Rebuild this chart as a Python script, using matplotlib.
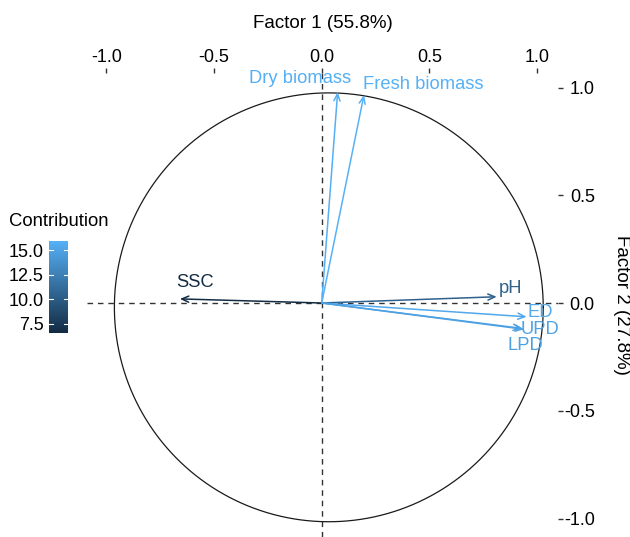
import numpy as np
import matplotlib
matplotlib.use("Agg")
import matplotlib.pyplot as plt
from matplotlib.colors import LinearSegmentedColormap, Normalize

plt.rcParams['font.family'] = ['Liberation Sans', 'DejaVu Sans']
plt.rcParams['lines.scale_dashes'] = False

# Variable loadings on the two factors and their contributions
variables = ["SSC", "Dry biomass", "Fresh biomass", "pH", "ED", "UPD", "LPD"]
factor1 = [-0.658, 0.074, 0.196, 0.812, 0.951, 0.939, 0.930]
factor2 = [0.019, 0.979, 0.965, 0.029, -0.064, -0.122, -0.118]
contribution = [6.55, 15.8, 15.95, 10.3, 15.3, 15.0, 14.8]

# Label anchor points (repelled away from the arrow tips)
label_x = [-0.588, -0.099, 0.471, 0.874, 1.013, 1.013, 0.943]
label_y = [0.093, 1.044, 1.016, 0.065, -0.046, -0.121, -0.195]

x_ticks = [-1.0, -0.5, 0.0, 0.5, 1.0]
y_ticks = [-1.0, -0.5, 0.0, 0.5, 1.0]
cbar_ticks = [7.5, 10.0, 12.5, 15.0]

W, H = 630, 537
fig = plt.figure(figsize=(W / 100, H / 100), dpi=100)

# Main panel
left_px, right_px, top_px, bottom_px = 87, 558, 73, 537
ax = fig.add_axes([left_px / W, 1 - bottom_px / H,
                   (right_px - left_px) / W, (bottom_px - top_px) / H])
scale = 215.5  # pixels per unit
ox, oy = 321.7, 303.0
ax.set_xlim((left_px - ox) / scale, (right_px - ox) / scale)
ax.set_ylim((oy - bottom_px) / scale, (oy - top_px) / scale)
for s in ax.spines.values():
    s.set_visible(False)

cmap = LinearSegmentedColormap.from_list("contrib", ["#132B43", "#56B1F7"])
norm = Normalize(vmin=min(contribution), vmax=max(contribution))

# Reference lines and correlation circle
ax.axhline(0, color="#333333", lw=1.0, ls=(0, (4.0, 3.5)), zorder=1)
ax.axvline(0, color="#333333", lw=1.0, ls=(0, (4.0, 3.5)), zorder=1)
theta = np.linspace(0, 2 * np.pi, 200)
ax.plot(0.033 + 0.995 * np.cos(theta), -0.02 + 0.995 * np.sin(theta),
        color="#1a1a1a", lw=0.9, zorder=2)

# Arrows and labels
for name, x, y, c, lx, ly in zip(variables, factor1, factor2, contribution,
                                 label_x, label_y):
    col = cmap(norm(c))
    ax.annotate("", xy=(x, y), xytext=(0, 0),
                arrowprops=dict(arrowstyle="->,head_length=0.5,head_width=0.22",
                                color=col, lw=1.1, shrinkA=0, shrinkB=0),
                zorder=3)
    ax.text(lx, ly, name, color=col, fontsize=13.2, ha="center", va="center",
            zorder=4)

# Axes on top and right
ax.xaxis.tick_top()
ax.xaxis.set_label_position("top")
ax.set_xticks(x_ticks)
ax.set_xticklabels([f"{t:.1f}" for t in x_ticks])
ax.tick_params(axis="x", length=3.5, width=1, color="#333333", pad=1.5,
               labelsize=13, labelcolor="black")
ax.set_xlabel("Factor 1 (55.8%)", fontsize=13.5, labelpad=15)

ax.yaxis.tick_right()
ax.yaxis.set_label_position("right")
ax.set_yticks(y_ticks)
ax.set_yticklabels([f"{t:.1f}" for t in y_ticks])
ax.tick_params(axis="y", length=3.5, width=1, color="#333333", pad=23,
               labelsize=13, labelcolor="black")
for lab in ax.get_yticklabels():
    lab.set_horizontalalignment("right")
ax.set_ylabel("Factor 2 (27.8%)", fontsize=13.5, rotation=-90, labelpad=25)

# Colour bar legend
cax = fig.add_axes([49 / W, 1 - 333 / H, 19 / W, 92 / H])
grad = np.linspace(norm.vmin, norm.vmax, 256).reshape(-1, 1)
cax.imshow(grad, aspect="auto", cmap=cmap, norm=norm, origin="lower",
           extent=[0, 1, norm.vmin, norm.vmax])
for t in cbar_ticks:
    cax.plot([0, 0.2], [t, t], color="white", lw=0.8)
    cax.plot([0.8, 1], [t, t], color="white", lw=0.8)
cax.set_xlim(0, 1)
cax.set_ylim(norm.vmin, norm.vmax)
cax.set_xticks([])
cax.set_yticks(cbar_ticks)
cax.set_yticklabels([f"{t:.1f}" for t in cbar_ticks])
cax.tick_params(axis="y", length=0, pad=4, labelsize=13)
for s in cax.spines.values():
    s.set_visible(False)
fig.text(9 / W, 1 - 221 / H, "Contribution", fontsize=13.3, ha="left",
         va="center")

fig.savefig("out.png", dpi=100)
